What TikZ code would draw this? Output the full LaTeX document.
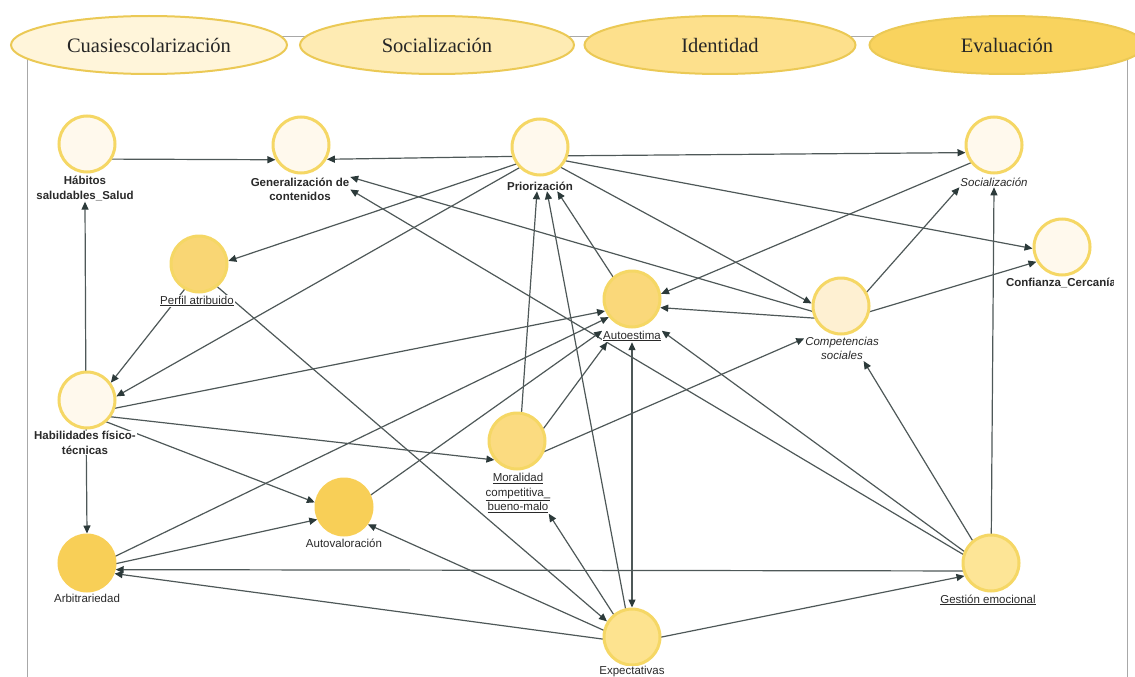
\documentclass[tikz,border=0pt]{standalone}
\usepackage{fontspec}
\setmainfont{Liberation Serif}
\newfontfamily\labfont{Liberation Sans}
\usetikzlibrary{shapes.geometric,arrows.meta,backgrounds}
\definecolor{framecol}{HTML}{A8A8A8}
\definecolor{hdrline}{HTML}{EBC955}
\definecolor{hA}{HTML}{FFF5DA}
\definecolor{hB}{HTML}{FEEBB3}
\definecolor{hC}{HTML}{FDE08C}
\definecolor{hD}{HTML}{F9D35E}
\definecolor{ring}{HTML}{F5D765}
\definecolor{fLight}{HTML}{FFF9ED}
\definecolor{fCom}{HTML}{FEF0D2}
\definecolor{fGes}{HTML}{FDE596}
\definecolor{fExp}{HTML}{FDE38F}
\definecolor{fMor}{HTML}{FBDB80}
\definecolor{fAut}{HTML}{FAD87A}
\definecolor{fPer}{HTML}{F9D674}
\definecolor{fDark}{HTML}{F8CF57}
\definecolor{edgecol}{HTML}{4E5858}
\definecolor{tipcol}{HTML}{2C3A3A}
\definecolor{labtext}{HTML}{2A2A2A}
\begin{document}
\begin{tikzpicture}[x=1pt,y=-1pt,
  >={Triangle[length=8pt,width=7pt,color=tipcol]},
  hdr/.style={ellipse, draw=hdrline, line width=2pt, minimum height=58pt,
    inner sep=0pt, font=\fontsize{20.5}{24}\selectfont, text=black!85},
  concept/.style={circle, minimum size=56pt, inner sep=0pt, line width=3pt, draw=ring},
  lab/.style={fill=white, inner sep=0.8pt, align=center,
    font=\labfont\fontsize{11.5}{14.5}\selectfont, text=labtext},
  boldlab/.style={lab, font=\labfont\bfseries\fontsize{11.5}{14.5}\selectfont},
  itlab/.style={lab, font=\labfont\itshape\fontsize{11.5}{14.5}\selectfont},
  edge/.style={draw=edgecol, line width=1.2pt, ->}]
\useasboundingbox (0,0) rectangle (1135,677);
% frame
\draw[framecol, line width=0.8pt] (27,680) -- (27,36) -- (1127,36) -- (1127,680);
% header
\node[hdr, fill=hA, minimum width=276pt] (h1) at (149,45) {Cuasiescolarización};
\node[hdr, fill=hB, minimum width=274pt] (h2) at (437,45) {Socialización};
\node[hdr, fill=hC, minimum width=271pt] (h3) at (720,45) {Identidad};
\node[hdr, fill=hD, minimum width=275pt] (h4) at (1007,45) {Evaluación};
% concepts
\node[concept, fill=fLight] (hab) at (87,144) {};
\node[boldlab] (habL) at (85,188.5) {Hábitos\\saludables\_Salud};
\node[concept, fill=fLight] (gen) at (301,145) {};
\node[boldlab] (genL) at (300,189.5) {Generalización de\\contenidos};
\node[concept, fill=fLight] (pri) at (540,147) {};
\node[boldlab] (priL) at (540,186) {Priorización};
\node[concept, fill=fLight] (soc) at (994,145) {};
\node[itlab] (socL) at (994,182) {Socialización};
\node[concept, fill=fLight] (con) at (1062,247) {};
\begin{scope}
\clip (0,0) rectangle (1113,677);
\node[boldlab] (conL) at (1061,283) {Confianza\_Cercanía};
\end{scope}
\node[concept, fill=fCom] (com) at (841,306) {};
\node[itlab] (comL) at (842,348.5) {Competencias\\sociales};
\node[concept, fill=fAut] (aut) at (632,299) {};
\node[lab] (autL) at (632,336) {\underline{Autoestima}};
\node[concept, fill=fPer] (per) at (199,264) {};
\node[lab] (perL) at (197,301) {\underline{Perfil atribuido}};
\node[concept, fill=fLight] (hfi) at (87,400) {};
\node[boldlab] (hfiL) at (85,443) {Habilidades físico-\\técnicas};
\node[concept, fill=fMor] (mor) at (517,441) {};
\node[lab] (morL) at (518,493) {\underline{Moralidad}\\\underline{competitiva\_}\\\underline{bueno-malo}};
\node[concept, fill=fDark, draw=fDark] (avl) at (344,507) {};
\node[lab] (avlL) at (344,543) {Autovaloración};
\node[concept, fill=fDark, draw=fDark] (arb) at (87,563) {};
\node[lab] (arbL) at (87,598) {Arbitrariedad};
\node[concept, fill=fExp] (exp) at (632,637) {};
\node[lab] (expL) at (632,672) {Expectativas};
\node[concept, fill=fGes] (ges) at (991,563) {};
\node[lab] (gesL) at (988,600) {\underline{Gestión emocional}};
% box centres
\coordinate (habC) at (86,159);
\coordinate (genC) at (300,160);
\coordinate (priC) at (540,156);
\coordinate (socC) at (994,153);
\coordinate (conC) at (1062,254);
\coordinate (comC) at (842,320);
\coordinate (autC) at (632,306);
\coordinate (perC) at (199,271);
\coordinate (hfiC) at (86,414);
\coordinate (morC) at (518,463);
\coordinate (avlC) at (344,514);
\coordinate (arbC) at (87,570);
\coordinate (expC) at (632,643);
\coordinate (gesC) at (991,571);
\begin{pgfonlayer}{background}
\draw[edge] (habC) -- (gen.210);
\draw[edge] (priC) -- (gen.-29);
\draw[edge] (comC) -- (genL.north east);
\draw[edge] (gesC) -- (genL.east);
\draw[edge] (priC) -- (per.6);
\draw[edge] (priC) -- (hfi.7);
\draw[edge] (perC) -- (hfi.36);
\draw[edge] (hfiC) -- (habL.south);
\draw[edge] (hfiC) -- (arb.north);
\draw[edge] (hfiC) -- (avl.171);
\draw[edge] (hfiC) -- (mor.220);
\draw[edge] (hfiC) -- (aut.204);
\draw[edge] (arbC) -- (aut.218);
\draw[edge] (avlC) -- (autL.170);
\draw[edge] (morC) -- ([xshift=5pt]autL.south west);
\draw[edge] (socC) -- (aut.10);
\draw[edge] (comC) -- (aut.-17);
\draw[edge] (gesC) -- (autL.10);
\draw[edge,<->] (autL.south) -- (exp.north);
\draw[edge] (autC) -- (priL.-17);
\draw[edge] (morC) -- ([xshift=-3pt]priL.south);
\draw[edge] (expC) -- ([xshift=7pt]priL.south);
\draw[edge] (priC) -- (soc.195);
\draw[edge] (priC) -- (con.183);
\draw[edge] (priC) -- (com.175);
\draw[edge] (comC) -- (socL.south west);
\draw[edge] (comC) -- (con.210);
\draw[edge] (morC) -- (comL.165);
\draw[edge] (gesC) -- (comL.-30);
\draw[edge] (gesC) -- (socL.south);
\draw[edge] (gesC) -- (arb.-13);
\draw[edge] (expC) -- (arb.-21);
\draw[edge] (expC) -- (ges.206);
\draw[edge] (perC) -- (exp.148);
\draw[edge] (expC) -- (morL.-34);
\draw[edge] (arbC) -- (avl.205);
\draw[edge] (expC) -- (avl.-36);
\end{pgfonlayer}
\end{tikzpicture}
\end{document}
